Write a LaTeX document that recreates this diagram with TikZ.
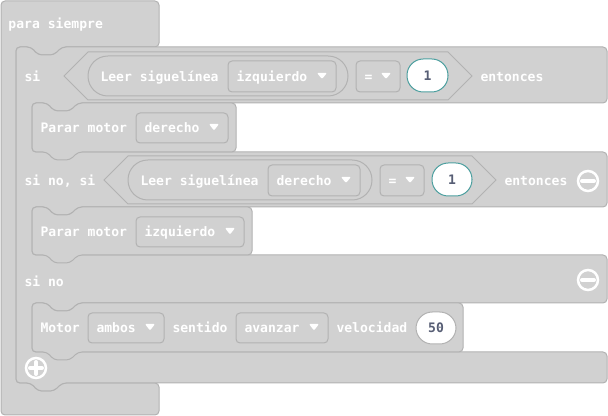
\documentclass[tikz,border=0pt]{standalone}
\usepackage{fontspec}
\setmonofont{DejaVu Sans Mono}
\newcommand\blocktext{\ttfamily\bfseries\fontsize{9.8}{11}\selectfont}

\definecolor{blkfill}{HTML}{D1D1D1}
\definecolor{blkline}{HTML}{B2B2B2}
\definecolor{numteal}{HTML}{4C9F9F}
\definecolor{numtext}{HTML}{575E75}

\tikzset{every picture/.style={line width=0.75pt}}
\tikzset{
  blk/.style={fill=blkfill, draw=blkline, rounded corners=3pt},
  slot/.style={fill=blkfill, draw=blkline},
  reporter/.style={fill=blkfill, draw=blkline, rounded corners=14.9pt},
  ddbox/.style={fill=blkfill, draw=blkline, rounded corners=3pt},
  numoval/.style={fill=white, rounded corners=12.2pt},
  lbl/.style={anchor=base west, inner sep=0pt, text=white, font=\blocktext},
  numtxt/.style={inner sep=0pt, text=numtext, font=\blocktext},
  ddarrow/.style={fill=white, rounded corners=0.8pt},
  iconring/.style={draw=white, line width=1.9pt},
  iconbar/.style={draw=white, line width=3pt, line cap=round},
}

\begin{document}
\begin{tikzpicture}[x=0.75pt,y=0.75pt,yscale=-1,xscale=1]

\useasboundingbox (0,0) rectangle (608,416);

% para siempre
\draw[blk] (1,1) -- (159,1) -- (159,47) -- (62,47) -- (54,55) -- (38,55) -- (31,47) -- (16,47) -- (16,383) -- (31,383) -- (38,391) -- (54,391) -- (62,383) -- (159,383) -- (159,415) -- (1,415) -- cycle ;
\node[lbl] (forever) at (8,29) {para siempre};

% si / si no, si / si no
\draw[blk] (16,47) -- (31,47) -- (38,55) -- (54,55) -- (62,47) -- (607,47) -- (607,103) -- (78,103) -- (70,111) -- (54,111) -- (47,103) -- (32,103) -- (32,152) -- (607,152) -- (607,207) -- (78,207) -- (70,215) -- (54,215) -- (47,207) -- (32,207) -- (32,255) -- (607,255) -- (607,303) -- (78,303) -- (70,311) -- (54,311) -- (47,303) -- (32,303) -- (32,352) -- (607,352) -- (607,383) -- (62,383) -- (54,391) -- (38,391) -- (31,383) -- (16,383) -- cycle ;
\node[lbl] (ifA) at (24,82) {si};
\node[lbl] (ifB) at (24,186) {si no, si};
\node[lbl] (ifC) at (24,287) {si no};

% condicion 1
\draw[slot] (64,76) -- (88,52) -- (448,52) -- (472,76) -- (448,100) -- (88,100) -- cycle ;
\draw[reporter] (88,56) rectangle (348,96);
\node[lbl] (readA) at (100,82) {Leer siguelínea};
\draw[ddbox] (228,61) rectangle (336,92);
\node[lbl] (sideA) at (236,82) {izquierdo};
\fill[ddarrow] (317,73) -- (327,73) -- (322,79) -- cycle ;
\draw[ddbox] (356,61) rectangle (400,92);
\node[lbl] (opA) at (364,82) {=};
\fill[ddarrow] (381,73) -- (391,73) -- (386,79) -- cycle ;
\draw[numoval, draw=numteal] (407,59) rectangle (448,92);
\node[numtxt] (numA) at (427.5,75.5) {1};
\node[lbl] (thenA) at (480,82) {entonces};

% condicion 2
\draw[slot] (104,180) -- (128,156) -- (472,156) -- (496,180) -- (472,204) -- (128,204) -- cycle ;
\draw[reporter] (128,160) rectangle (372,200);
\node[lbl] (readB) at (140,186) {Leer siguelínea};
\draw[ddbox] (268,165) rectangle (360,196);
\node[lbl] (sideB) at (276,186) {derecho};
\fill[ddarrow] (341,177) -- (351,177) -- (346,183) -- cycle ;
\draw[ddbox] (380,165) rectangle (424,196);
\node[lbl] (opB) at (388,186) {=};
\fill[ddarrow] (405,177) -- (415,177) -- (410,183) -- cycle ;
\draw[numoval, draw=numteal] (432,163) rectangle (472,196);
\node[numtxt] (numB) at (452,179.5) {1};
\node[lbl] (thenB) at (504,186) {entonces};

% Parar motor derecho
\draw[blk] (32,103) -- (47,103) -- (54,111) -- (70,111) -- (78,103) -- (236,103) -- (236,152) -- (78,152) -- (70,160) -- (54,160) -- (47,152) -- (32,152) -- cycle ;
\node[lbl] (stopA) at (40,133) {Parar motor};
\draw[ddbox] (136,113) rectangle (228,143);
\node[lbl] (stopSideA) at (144,133) {derecho};
\fill[ddarrow] (209,124) -- (219,124) -- (214,130.5) -- cycle ;

% Parar motor izquierdo
\draw[blk] (32,207) -- (47,207) -- (54,215) -- (70,215) -- (78,207) -- (252,207) -- (252,255) -- (78,255) -- (70,263) -- (54,263) -- (47,255) -- (32,255) -- cycle ;
\node[lbl] (stopB) at (40,237) {Parar motor};
\draw[ddbox] (136,217) rectangle (244,247);
\node[lbl] (stopSideB) at (144,237) {izquierdo};
\fill[ddarrow] (225,228) -- (235,228) -- (230,234.5) -- cycle ;

% Motor ambos
\draw[blk] (32,303) -- (47,303) -- (54,311) -- (70,311) -- (78,303) -- (463,303) -- (463,352) -- (78,352) -- (70,360) -- (54,360) -- (47,352) -- (32,352) -- cycle ;
\node[lbl] (motor) at (40,333) {Motor};
\draw[ddbox] (88,313) rectangle (164,343);
\node[lbl] (motorSide) at (96,333) {ambos};
\fill[ddarrow] (145,324) -- (155,324) -- (150,330.5) -- cycle ;
\node[lbl] (dirLbl) at (172,333) {sentido};
\draw[ddbox] (236,313) rectangle (328,343);
\node[lbl] (motorDir) at (244,333) {avanzar};
\fill[ddarrow] (309,324) -- (319,324) -- (314,330.5) -- cycle ;
\node[lbl] (speedLbl) at (336,333) {velocidad};
\draw[numoval, draw=blkline] (416,312) rectangle (456,344);
\node[numtxt] (speed) at (436,328) {50};

% iconos
\draw[iconring] (588,181) circle (10);
\draw[iconbar] (582,181) -- (594,181);
\draw[iconring] (588,280) circle (10);
\draw[iconbar] (582,280) -- (594,280);
\draw[iconring] (36,368) circle (10);
\draw[iconbar] (30,368) -- (42,368);
\draw[iconbar] (36,362) -- (36,374);

\end{tikzpicture}
\end{document}
